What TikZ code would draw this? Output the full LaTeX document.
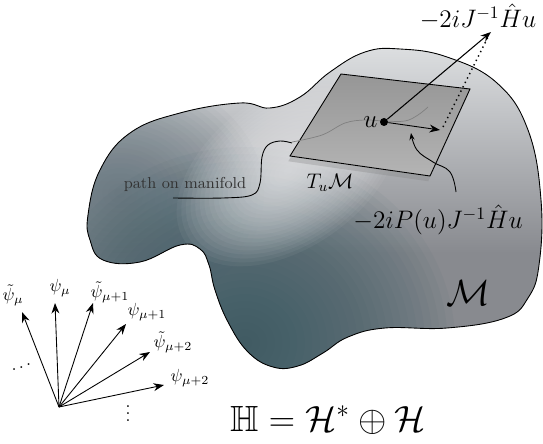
\documentclass[tikz,border=0pt]{standalone}
\usepackage{amsmath,amssymb}
\usetikzlibrary{arrows.meta, positioning, shadows}

\definecolor{mteal}{RGB}{52,86,96}
\definecolor{mblue}{RGB}{96,114,124}
\definecolor{mgray}{RGB}{136,138,143}
\definecolor{mlight}{RGB}{222,224,226}
\definecolor{mglow}{RGB}{245,245,247}
\definecolor{planetop}{RGB}{150,150,150}
\definecolor{planebot}{RGB}{180,180,180}

\begin{document}
\begin{tikzpicture}[x=0.02cm, y=0.02cm,
    >={Stealth[length=6pt, width=4.5pt]},
    vec/.style={->, line width=0.5pt},
    veclbl/.style={font=\normalsize, inner sep=1pt},
    maplbl/.style={font=\Large, inner sep=1pt},
    biglbl/.style={font=\huge},
    pathlbl/.style={font=\small, text=black!80},
    tplane/.style={draw=black, line width=0.5pt, top color=planetop, bottom color=planebot,
                   drop shadow={shadow xshift=-1pt, shadow yshift=-3pt, opacity=0.3}},
    udot/.style={circle, fill=black, inner sep=0pt, minimum size=0.16cm}
  ]
  \useasboundingbox (0,0) rectangle (543,443);

  \def\manifold{plot[smooth cycle, tension=0.7] coordinates {(88,228) (100,273) (130,310)
    (180,330) (240,340) (270,335) (300,346) (330,371) (365,391) (400,394) (447,386)
    (497,360) (528,313) (541,243) (539,178) (528,145) (505,125) (447,115) (385,115)
    (348,106) (323,90) (298,77) (273,76) (248,91) (228,121) (215,153) (209,178)
    (200,194) (180,198) (140,181) (103,183) (90,203)}}

  % Manifold with its shading
  \begin{scope}
    \clip \manifold;
    \fill[mgray] (0,0) rectangle (543,443);
    \shade[top color=mlight, bottom color=mgray] (0,190) rectangle (543,400);
    \foreach \r in {1,...,24}
      \fill[mblue, fill opacity=0.05] (120,250) ellipse ({6*\r} and {5*\r});
    \foreach \r in {1,...,28}
      \fill[mteal, fill opacity=0.05] (245,100) ellipse ({7.5*\r} and {7*\r});
    \foreach \r in {1,...,24}
      \fill[mglow, fill opacity=0.05, rotate around={35:(288,272)}] (288,272) ellipse ({5.2*\r} and {3.2*\r});
  \end{scope}
  \draw[line width=0.5pt] \manifold;

  % Path on manifold
  \node[pathlbl] (plbl) at (185,259) {path on manifold};
  \draw[line width=0.5pt] plot[smooth, tension=0.6] coordinates {(173,245) (223,245)
    (252,248) (260,260) (262,286) (268,298) (280,302) (292,300)};

  % Tangent space
  \path[tplane] (341,369) -- (470,354) -- (430,267) -- (290,287) -- cycle;
  \node[maplbl, font=\large] (tlbl) at (330,260) {$T_u\mathcal{M}$};
  \draw[gray, line width=0.4pt] plot[smooth, tension=0.6] coordinates {(292,301) (322,308)
    (345,320) (365,323) (384,322) (405,322) (418,328) (428,336)};

  \node[udot] (u) at (384,321) {};
  \node[maplbl, left=0pt of u] (ulbl) {$u$};

  \coordinate (tip) at (491,411);
  \coordinate (proj) at (440,313);
  \draw[->, line width=0.6pt] (u) -- (tip);
  \draw[->, line width=0.5pt] (u) -- (proj);
  \draw[dotted, line width=0.8pt] (443,316) -- (488,406);
  \node[maplbl] (hlbl) at (478,426) {$-2iJ^{-1}\hat{H}u$};

  % Projected vector label
  \node[maplbl] (plbl2) at (438,223) {$-2iP(u)J^{-1}\hat{H}u$};
  \draw[->, >={Stealth[length=4pt, width=3pt]}, line width=0.5pt] plot[smooth, tension=0.7]
    coordinates {(456,251) (450,271) (433,281) (417,293) (411,310)};

  \node[biglbl] (mlbl) at (468,150) {$\mathcal{M}$};

  % Basis vectors
  \coordinate (o) at (59,36);
  \coordinate (v1) at (22,131);
  \coordinate (v2) at (55,140);
  \coordinate (v3) at (93,140);
  \coordinate (v4) at (126,119);
  \coordinate (v5) at (150,91);
  \coordinate (v6) at (164,58);
  \draw[vec] (o) -- (v1);
  \draw[vec] (o) -- (v2);
  \draw[vec] (o) -- (v3);
  \draw[vec] (o) -- (v4);
  \draw[vec] (o) -- (v5);
  \draw[vec] (o) -- (v6);
  \node[veclbl] at (13,148) {$\tilde{\psi}_\mu$};
  \node[veclbl] at (60,155) {$\psi_\mu$};
  \node[veclbl] at (110,151) {$\tilde{\psi}_{\mu+1}$};
  \node[veclbl] at (147,131) {$\psi_{\mu+1}$};
  \node[veclbl] at (173,101) {$\tilde{\psi}_{\mu+2}$};
  \node[veclbl] at (190,65) {$\psi_{\mu+2}$};
  \node[rotate=20] at (23,76) {$\cdots$};
  \node at (128,35) {$\vdots$};

  \node[biglbl] (eq) at (328,23) {$\mathbb{H}=\mathcal{H}^*\oplus\mathcal{H}$};
\end{tikzpicture}
\end{document}
